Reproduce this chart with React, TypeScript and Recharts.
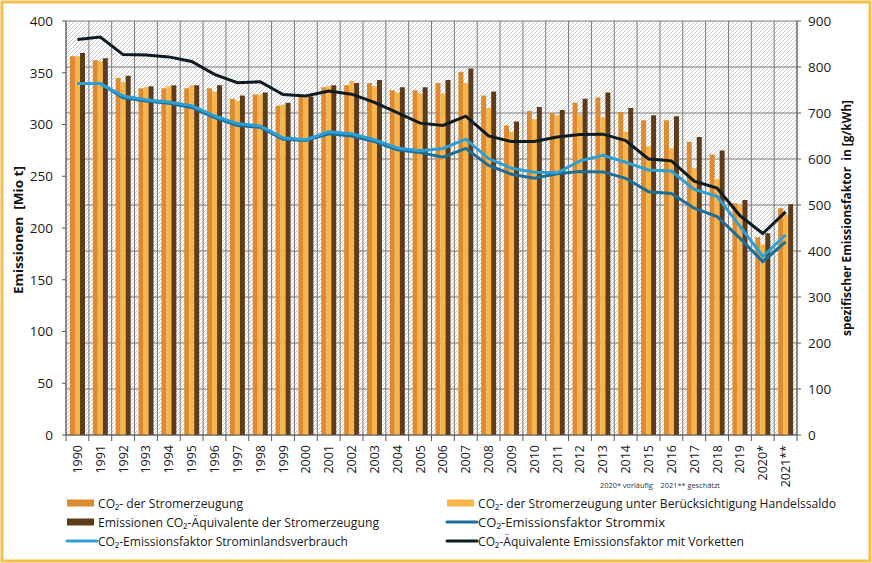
import React from "react";
import { ComposedChart, Bar, Line, XAxis, YAxis, CartesianGrid } from "recharts";

const years = ["1990","1991","1992","1993","1994","1995","1996","1997","1998","1999","2000","2001","2002","2003","2004","2005","2006","2007","2008","2009","2010","2011","2012","2013","2014","2015","2016","2017","2018","2019","2020*","2021**"];

// Mio t (left axis)
const co2Erzeugung = [366,362,345,335,335,335,335,325,329,318,327,336,338,340,333,333,340,351,328,299,313,311,321,326,312,304,304,283,271,224,191,219];
const co2Handelssaldo = [366,361,341,336,337,338,332,323,329,319,326,337,342,337,331,330,330,340,316,293,305,309,310,307,293,279,277,258,247,222,184,213];
const co2Aequivalente = [369,364,347,337,338,338,338,328,331,321,327,338,340,343,336,336,343,354,332,303,317,314,325,331,316,309,308,288,275,227,195,223];

// g/kWh (right axis)
const efStrommix = [764,764,733,726,721,712,690,673,669,643,640,655,650,638,620,614,604,623,586,567,558,568,573,572,558,529,525,493,475,428,377,420];
const efInlandsverbrauch = [764,764,737,729,724,716,694,677,672,646,642,659,655,642,624,618,623,643,601,580,571,570,596,608,593,576,574,534,519,454,388,435];
const efVorketten = [860,865,827,826,822,812,784,766,768,740,737,748,741,723,701,678,673,693,650,638,638,648,653,654,640,600,596,552,537,477,438,485];

const leftTicks = [0,50,100,150,200,250,300,350,400];
const rightTicks = [0,100,200,300,400,500,600,700,800,900];

const data = years.map((y, i) => ({
  year: y,
  gen: co2Erzeugung[i],
  hs: co2Handelssaldo[i],
  aeq: co2Aequivalente[i],
  mix: efStrommix[i],
  inl: efInlandsverbrauch[i],
  vk: efVorketten[i],
}));

const C_ORANGE = "#DD8A30";
const C_LIGHT = "#F9B547";
const C_DARK = "#5E3C1A";
const C_MIX = "#1D6E98";
const C_INL = "#2C9FD5";
const C_VK = "#0D1B22";
const AXIS = "#5a5a5a";
const FONT = "'Open Sans', 'Noto Sans', sans-serif";

const W = 872;
const H = 563;
const PL = 66;
const PR = 797;
const PT = 21;
const PB = 435;
const BW = (PR - PL) / years.length;

const XTick = (props: any) => {
  const { x, y, payload, index } = props;
  const last = index === years.length - 1;
  return (
    <g>
      <line x1={x - BW / 2} y1={y - 10} x2={x - BW / 2} y2={y - 4} stroke={AXIS} />
      {last && <line x1={x + BW / 2} y1={y - 10} x2={x + BW / 2} y2={y - 4} stroke={AXIS} />}
      <text
        transform={`translate(${x + 4.5},${y}) rotate(-90)`}
        textAnchor="end"
        fontSize={12.5}
        fontFamily={FONT}
        fill="#1a1a1a"
      >
        {payload.value}
      </text>
    </g>
  );
};

const legendItems = [
  { label: "CO₂- der Stromerzeugung", color: C_ORANGE, kind: "bar", col: 0, row: 0, w: 145 },
  { label: "CO₂- der Stromerzeugung unter Berücksichtigung Handelssaldo", color: C_LIGHT, kind: "bar", col: 1, row: 0, w: 358 },
  { label: "Emissionen CO₂-Äquivalente der Stromerzeugung", color: C_DARK, kind: "bar", col: 0, row: 1, w: 281 },
  { label: "CO₂-Emissionsfaktor Strommix", color: C_MIX, kind: "line", col: 1, row: 1, w: 187 },
  { label: "CO₂-Emissionsfaktor Strominlandsverbrauch", color: C_INL, kind: "line", col: 0, row: 2, w: 250 },
  { label: "CO₂-Äquivalente Emissionsfaktor mit Vorketten", color: C_VK, kind: "line", col: 1, row: 2, w: 266 },
];

const Overlay = () => {
  const colX = [67, 447];
  const rowY = [503, 522, 541];
  return (
    <svg width={W} height={H} style={{ position: "absolute", left: 0, top: 0, pointerEvents: "none" }}>
      <rect x={2} y={2} width={W - 4} height={H - 4} fill="none" stroke="#F5BE4A" strokeWidth={3} />
      <text
        transform={`translate(23,230) rotate(-90)`}
        textAnchor="middle"
        fontSize={12.5}
        fontWeight="bold"
        fontFamily={FONT}
        fill="#111"
        textLength={128}
        lengthAdjust="spacingAndGlyphs"
      >
        {"Emissionen\u00a0 [Mio t]"}
      </text>
      <text
        transform={`translate(851,218) rotate(-90)`}
        textAnchor="middle"
        fontSize={12.5}
        fontWeight="bold"
        fontFamily={FONT}
        fill="#111"
        textLength={236}
        lengthAdjust="spacingAndGlyphs"
      >
        {"spezifischer Emissionsfaktor\u00a0 in [g/kWh]"}
      </text>
      <text
        x={600}
        y={488}
        fontSize={7}
        fontFamily={FONT}
        fill="#333"
        textLength={120}
        lengthAdjust="spacingAndGlyphs"
      >
        {"2020* vorläufig\u00a0\u00a0\u00a0 2021** geschätzt"}
      </text>
      {legendItems.map((it) => {
        const x = colX[it.col];
        const y = rowY[it.row];
        return (
          <g key={it.label}>
            {it.kind === "bar" ? (
              <rect x={x} y={y - 3.5} width={27} height={7} fill={it.color} />
            ) : (
              <line x1={x} y1={y} x2={x + 30} y2={y} stroke={it.color} strokeWidth={3} strokeLinecap="round" />
            )}
            <text
              x={x + 31}
              y={y + 5}
              fontSize={12.5}
              fontFamily={FONT}
              fill="#1a1a1a"
              textLength={it.w}
              lengthAdjust="spacingAndGlyphs"
            >
              {it.label}
            </text>
          </g>
        );
      })}
    </svg>
  );
};

export default function App() {
  return (
    <div style={{ position: "absolute", left: 0, top: 0, width: W, height: H, background: "#fff" }}>
      <ComposedChart
        width={W}
        height={H}
        data={data}
        margin={{ top: PT, right: 0, bottom: 0, left: 0 }}
        barGap={0}
        barCategoryGap={0}
      >
        <defs>
          <pattern id="hatch" patternUnits="userSpaceOnUse" width={4} height={4}>
            <rect width={4} height={4} fill="#ffffff" />
            <path d="M-1,1 l2,-2 M0,4 l4,-4 M3,5 l2,-2" stroke="#bdbdbd" strokeWidth={0.8} />
          </pattern>
        </defs>
        <CartesianGrid
          yAxisId="right"
          stroke="#7a7a7a"
          strokeWidth={1}
          fill="url(#hatch)"
          fillOpacity={1}
          verticalCoordinatesGenerator={(p: any) => {
            const off = p.offset;
            const n = years.length;
            const arr: number[] = [];
            for (let i = 0; i <= n; i++) arr.push(off.left + (i * off.width) / n);
            return arr;
          }}
        />
        <XAxis
          dataKey="year"
          height={H - PB}
          interval={0}
          tickSize={0}
          tickMargin={10}
          tick={<XTick />}
          axisLine={{ stroke: AXIS }}
        />
        <YAxis
          yAxisId="left"
          width={PL}
          domain={[0, 400]}
          ticks={leftTicks}
          tickSize={4}
          tickMargin={9}
          axisLine={{ stroke: AXIS }}
          tickLine={{ stroke: AXIS }}
          tick={{ fontSize: 13.5, fontFamily: FONT, fill: "#1a1a1a" }}
          allowDataOverflow
        />
        <YAxis
          yAxisId="right"
          orientation="right"
          width={W - PR}
          domain={[0, 900]}
          ticks={rightTicks}
          tickSize={4}
          tickMargin={7}
          axisLine={{ stroke: AXIS }}
          tickLine={{ stroke: AXIS }}
          tick={{ fontSize: 13.5, fontFamily: FONT, fill: "#1a1a1a", textAnchor: "start" }}
          allowDataOverflow
        />
        <Bar yAxisId="left" dataKey="gen" fill={C_ORANGE} barSize={5} isAnimationActive={false} />
        <Bar yAxisId="left" dataKey="hs" fill={C_LIGHT} barSize={5} isAnimationActive={false} />
        <Bar yAxisId="left" dataKey="aeq" fill={C_DARK} barSize={5} isAnimationActive={false} />
        <Line yAxisId="right" dataKey="mix" stroke={C_MIX} strokeWidth={3} dot={false} type="linear" isAnimationActive={false} />
        <Line yAxisId="right" dataKey="inl" stroke={C_INL} strokeWidth={3} dot={false} type="linear" isAnimationActive={false} />
        <Line yAxisId="right" dataKey="vk" stroke={C_VK} strokeWidth={3} dot={false} type="linear" isAnimationActive={false} />
      </ComposedChart>
      <Overlay />
    </div>
  );
}
